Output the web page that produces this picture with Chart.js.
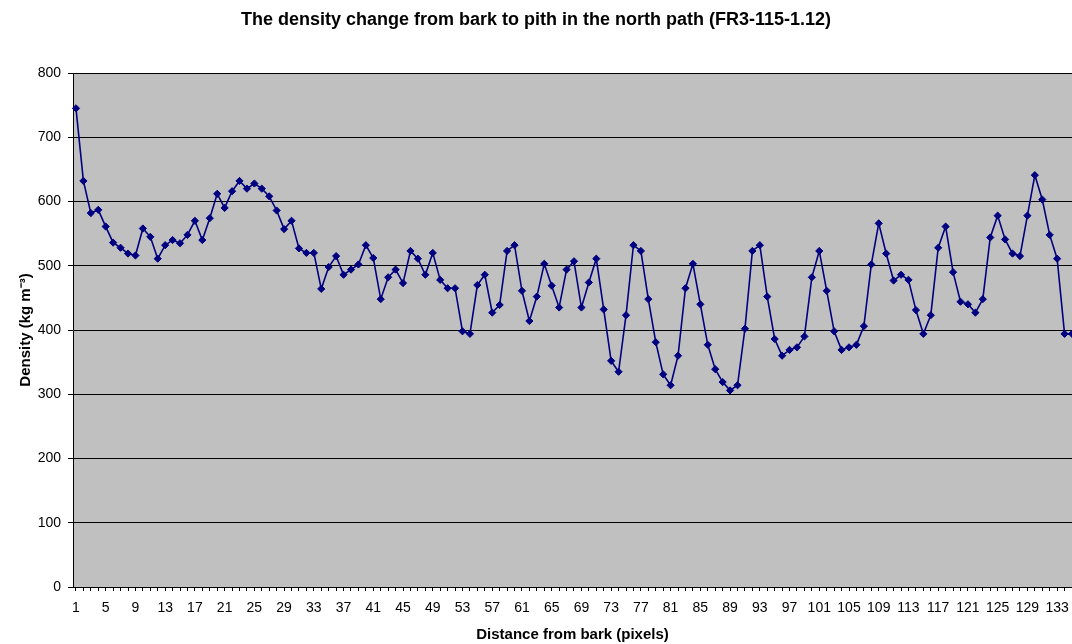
<!DOCTYPE html>
<html>
<head>
<meta charset="utf-8">
<script src="https://cdn.jsdelivr.net/npm/chart.js@4/dist/chart.umd.min.js"></script>
<style>
  html, body { margin: 0; padding: 0; background: #fff; }
  canvas { display: block; }
</style>
</head>
<body>
<canvas id="densityChart" width="1072" height="644"></canvas>
<script>
// distance from bark (pixels) 1..135
const distances = [];
for (let i = 1; i <= 135; i++) distances.push(i);

// density readings (kg m-3)
const density = [
  745, 632, 582, 587, 561, 536, 528, 519, 516, 558,
  545, 511, 532, 540, 535, 548, 570, 540, 574, 612,
  590, 616, 632, 620, 628, 620, 608, 586, 557, 570,
  527, 520, 520, 464, 498, 515, 486, 494, 502, 532,
  512, 448, 482, 494, 473, 523, 511, 486, 520, 478,
  465, 465, 398, 394, 470, 486, 427, 439, 523, 532,
  461, 414, 452, 503, 469, 435, 494, 507, 435, 474,
  511, 432, 352, 335, 423, 532, 523, 448, 381, 331,
  314, 360, 465, 503, 440, 377, 339, 319, 306, 314,
  402, 523, 532, 452, 386, 360, 369, 373, 390, 482,
  523, 461, 398, 369, 373, 377, 406, 502, 566, 519,
  477, 486, 478, 431, 394, 423, 528, 561, 490, 444,
  440, 427, 448, 544, 578, 541, 519, 515, 578, 641,
  603, 548, 511, 394, 394
];

const yTicks = [0, 100, 200, 300, 400, 500, 600, 700, 800];

const plotBackground = {
  id: 'plotBackground',
  beforeDraw(chart) {
    const { ctx, chartArea } = chart;
    ctx.save();
    ctx.fillStyle = '#c0c0c0';
    ctx.fillRect(chartArea.left, chartArea.top, chartArea.right - chartArea.left, chartArea.bottom - chartArea.top);
    ctx.restore();
  }
};

Chart.defaults.font.family = '"Liberation Sans", Arial, sans-serif';
Chart.defaults.color = '#000';

const ctx = document.getElementById('densityChart').getContext('2d');
new Chart(ctx, {
  type: 'line',
  data: {
    labels: distances,
    datasets: [{
      label: 'Density',
      data: density,
      borderColor: '#000080',
      backgroundColor: '#000080',
      borderWidth: 1.6,
      pointStyle: 'rectRot',
      pointRadius: 3.6,
      pointBorderWidth: 1,
      tension: 0,
      clip: false
    }]
  },
  options: {
    responsive: false,
    animation: false,
    layout: { autoPadding: false, padding: { left: 0, right: 0, top: 0, bottom: 0 } },
    plugins: {
      legend: { display: false },
      tooltip: { enabled: false },
      title: {
        display: true,
        text: 'The density change from bark to pith in the north path (FR3-115-1.12)',
        font: { size: 18, weight: 'bold', lineHeight: 1.2 },
        padding: { top: 9, bottom: 42.4 }
      }
    },
    scales: {
      x: {
        type: 'linear',
        min: 0.6,
        max: 135,
        border: { color: '#000', width: 1 },
        grid: { drawOnChartArea: false, drawTicks: true, tickLength: 4, tickColor: '#000' },
        afterBuildTicks(scale) { scale.ticks = distances.map(v => ({ value: v })); },
        ticks: {
          autoSkip: false,
          maxRotation: 0,
          minRotation: 0,
          padding: 9,
          font: { size: 14 },
          callback: function (value) {
            return (value - 1) % 4 === 0 ? String(value) : '';
          }
        },
        title: {
          display: true,
          text: 'Distance from bark (pixels)',
          font: { size: 15, weight: 'bold', lineHeight: 1.2 },
          padding: { top: 0, bottom: 0 }
        },
        afterFit(scale) {
          scale.height = 57;
          scale.paddingLeft = 0;
          scale.paddingRight = 0;
        }
      },
      y: {
        min: 0,
        max: 800,
        border: { color: '#000', width: 1 },
        grid: { color: '#000', lineWidth: 1, tickLength: 5, tickColor: '#000' },
        afterBuildTicks(scale) { scale.ticks = yTicks.map(v => ({ value: v })); },
        ticks: { padding: 7, font: { size: 14 } },
        title: {
          display: true,
          text: 'Density (kg m⁻³)',
          font: { size: 15, weight: 'bold', lineHeight: 1.2 },
          padding: { top: 17, bottom: 0 }
        },
        afterFit(scale) {
          scale.width = 73;
          scale.paddingTop = 0;
          scale.paddingBottom = 0;
        }
      }
    }
  },
  plugins: [plotBackground]
});
</script>
</body>
</html>
